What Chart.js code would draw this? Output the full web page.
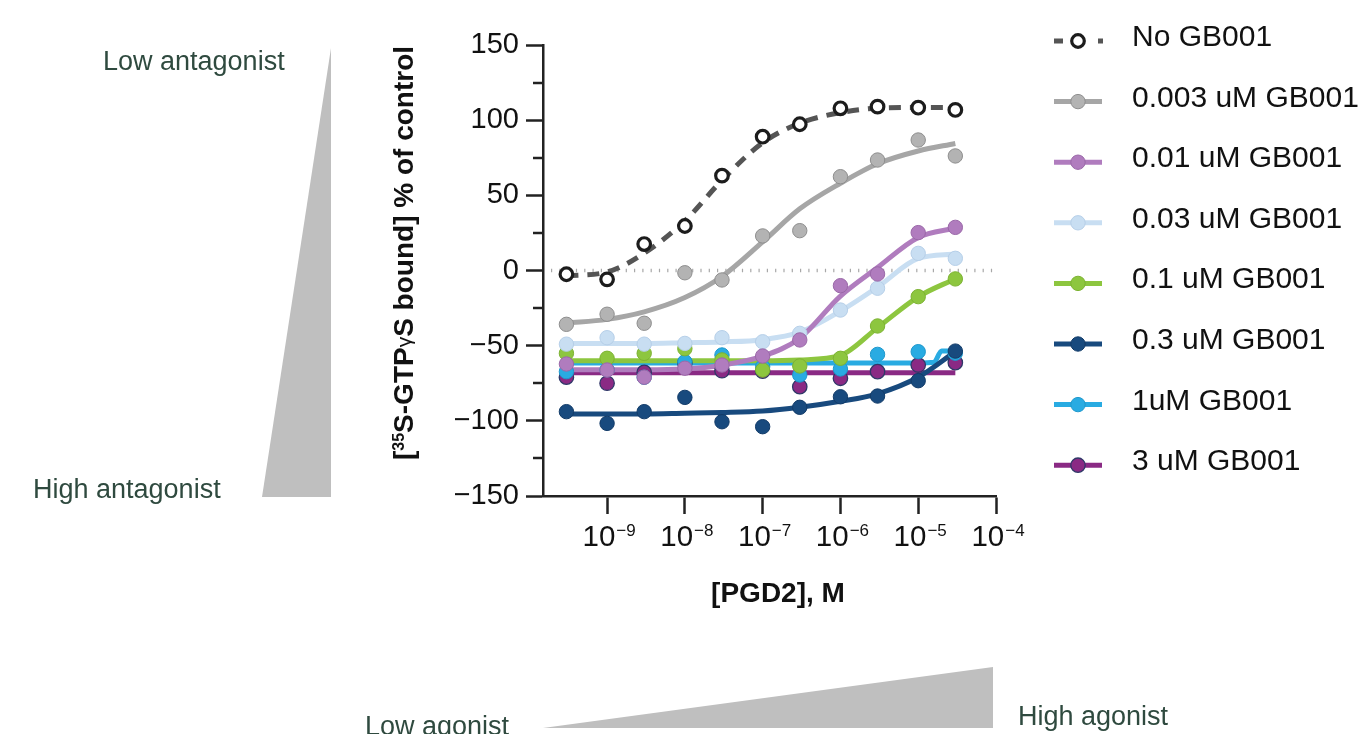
<!DOCTYPE html>
<html>
<head>
<meta charset="utf-8">
<script src="https://cdn.jsdelivr.net/npm/chart.js@4.4.1/dist/chart.umd.min.js"></script>
<style>
  html, body { margin: 0; background: #fff; }
  canvas { display: block; }
</style>
</head>
<body>
<canvas id="chart" width="1362" height="734"></canvas>
<script>
const FONT = '"Liberation Sans", Arial, Helvetica, sans-serif';
Chart.defaults.font.family = FONT;
Chart.defaults.color = '#111';

// [PGD2], M
const conc = [3e-10, 1e-9, 3e-9, 1e-8, 3e-8, 1e-7, 3e-7, 1e-6, 3e-6, 1e-5, 3e-5];
const xTicks = [1e-9, 1e-8, 1e-7, 1e-6, 1e-5, 1e-4];
const yMinorTicks = [-125, -75, -25, 25, 75, 125];

const labels = ['No GB001', '0.003 uM GB001', '0.01 uM GB001', '0.03 uM GB001',
                '0.1 uM GB001', '0.3 uM GB001', '1uM GB001', '3 uM GB001'];

// measured points (% of control)
const ptsNone = [-2.5, -5.9, 17.6, 29.6, 63.1, 89.0, 97.3, 107.9, 109.0, 108.3, 106.8];
const pts0003 = [-35.8, -29.1, -35.1, -1.5, -6.3, 23.0, 26.5, 62.4, 73.5, 86.8, 76.2];
const pts001 = [-62.2, -66.2, -71.0, -65.0, -62.9, -56.9, -46.2, -10.1, -2.3, 25.2, 28.7];
const pts003 = [-49.0, -44.7, -49.0, -48.5, -44.7, -47.4, -41.8, -26.3, -11.8, 11.4, 8.1];
const pts01 = [-55.1, -58.4, -55.1, -52.0, -59.5, -66.2, -63.5, -58.4, -36.9, -17.4, -5.6];
const pts03 = [-93.9, -101.7, -93.9, -84.4, -100.6, -103.9, -91.0, -84.0, -83.5, -73.3, -53.6];
const pts1 = [-67.3, -66.0, -71.0, -60.7, -56.2, -64.0, -69.5, -65.5, -55.8, -54.0, -55.0];
const pts3 = [-71.0, -75.0, -67.7, -61.5, -66.7, -67.0, -77.3, -71.7, -67.3, -62.9, -61.3];

// fitted curves at the same concentrations
const fitNone = [-3.5, -1, 11.5, 33, 60, 85, 98, 105, 108, 108.5, 108.5];
const fit0003 = [-35, -32.5, -27.5, -18, -4, 19, 41, 58, 71, 79.5, 84.5];
const fit001 = [-66, -66, -66, -65.5, -63, -57, -45, -17, 2, 22, 28.3];
const fit003 = [-48.5, -48.5, -48.5, -48, -47.5, -46, -41, -27, -11, 8, 11];
const fit01 = [-60, -60, -60, -60, -60, -60, -59.5, -56.5, -38, -17.5, -5.5];
const fit03 = [-95.5, -95.5, -95.5, -95, -94.5, -93.5, -91, -87, -82, -71, -54];
const fit3 = [-68, -68, -68, -68, -68, -68, -68, -68, -68, -68, -68];
// 1 uM fit is a sharp step near the top concentration
const conc1Fit = [3e-10, 1e-9, 3e-9, 1e-8, 3e-8, 1e-7, 3e-7, 1e-6, 3e-6, 1e-5, 1.6e-5, 2e-5, 3e-5];
const fit1 = [-61.5, -61.5, -61.5, -61.5, -61.5, -61.5, -61.5, -61.5, -61.5, -61.5, -61, -53.5, -53.5];

const series = [
  { pts: ptsNone, fit: fitNone, fx: conc, line: '#555555', fill: '#ffffff', edge: '#1c1c1c', bw: 3.2, r: 6.3, dash: [12, 9], zp: 2, zl: 9 },
  { pts: pts0003, fit: fit0003, fx: conc, line: '#a6a6a6', fill: '#b3b3b3', edge: '#8e8e8e', bw: 1, r: 7.2, zp: 3, zl: 12 },
  { pts: pts001, fit: fit001, fx: conc, line: '#b07cbe', fill: '#b07cbe', edge: '#9a68a8', bw: 1, r: 7.2, zp: 1, zl: 11 },
  { pts: pts003, fit: fit003, fx: conc, line: '#c8def2', fill: '#c8def2', edge: '#b6cfe8', bw: 1, r: 7.2, zp: 4, zl: 13 },
  { pts: pts01, fit: fit01, fx: conc, line: '#8dc63f', fill: '#8dc63f', edge: '#7cb232', bw: 1, r: 7.2, zp: 5, zl: 14 },
  { pts: pts03, fit: fit03, fx: conc, line: '#184a7e', fill: '#184a7e', edge: '#123b68', bw: 1, r: 7.2, zp: 6, zl: 10 },
  { pts: pts1, fit: fit1, fx: conc1Fit, line: '#29abe2', fill: '#29abe2', edge: '#1f98cc', bw: 1, r: 7.2, zp: 7, zl: 15 },
  { pts: pts3, fit: fit3, fx: conc, line: '#8a2a84', fill: '#8a2a84', edge: '#2f3868', bw: 1.3, r: 7.2, zp: 8, zl: 16 }
];

const datasets = [];
series.forEach((s, i) => {
  datasets.push({
    label: labels[i] + ' fit',
    data: s.fx.map((c, k) => ({ x: c, y: s.fit[k] })),
    borderColor: s.line,
    borderWidth: 5,
    borderDash: s.dash || [],
    pointRadius: 0,
    cubicInterpolationMode: 'monotone',
    fill: false,
    order: s.zl
  });
  datasets.push({
    label: labels[i],
    data: conc.map((c, k) => ({ x: c, y: s.pts[k] })),
    showLine: false,
    pointRadius: s.r,
    pointBackgroundColor: s.fill,
    pointBorderColor: s.edge,
    pointBorderWidth: s.bw,
    order: s.zp
  });
});

function superLabel(ctx, base, exp, cx, baseY, bigSize, smallSize) {
  ctx.font = bigSize + 'px ' + FONT;
  const wb = ctx.measureText(base).width;
  ctx.font = smallSize + 'px ' + FONT;
  const we = ctx.measureText(exp).width;
  const x0 = cx - (wb + we + 1) / 2;
  ctx.font = bigSize + 'px ' + FONT;
  ctx.fillText(base, x0, baseY);
  ctx.font = smallSize + 'px ' + FONT;
  ctx.fillText(exp, x0 + wb + 1, baseY - 10);
}

const decor = {
  id: 'decor',
  beforeDatasetsDraw(chart) {
    const { ctx, chartArea, scales } = chart;
    const y0 = scales.y.getPixelForValue(0);
    ctx.save();
    ctx.strokeStyle = '#a8a8a8';
    ctx.lineWidth = 3.5;
    ctx.setLineDash([1.2, 7.1]);
    ctx.beginPath();
    ctx.moveTo(chartArea.left + 8, y0);
    ctx.lineTo(chartArea.right, y0);
    ctx.stroke();
    ctx.restore();
  },
  afterDraw(chart) {
    const { ctx, chartArea, scales } = chart;
    ctx.save();

    // minor y ticks
    ctx.strokeStyle = '#222';
    ctx.lineWidth = 2.5;
    yMinorTicks.forEach(v => {
      const py = Math.round(scales.y.getPixelForValue(v));
      ctx.beginPath();
      ctx.moveTo(chartArea.left - 10, py);
      ctx.lineTo(chartArea.left, py);
      ctx.stroke();
    });

    // x tick labels 10^n
    ctx.fillStyle = '#111';
    ctx.textAlign = 'left';
    ctx.textBaseline = 'alphabetic';
    xTicks.forEach(v => {
      const px = scales.x.getPixelForValue(v);
      const e = Math.round(Math.log10(v));
      superLabel(ctx, '10', '\u2212' + Math.abs(e), px + 2, 546, 29.5, 17);
    });

    // axis titles
    ctx.font = 'bold 28px ' + FONT;
    ctx.textAlign = 'center';
    ctx.fillText('[PGD2], M', 778, 602);

    ctx.save();
    ctx.translate(413, 253);
    ctx.rotate(-Math.PI / 2);
    const parts = [
      { t: '[', f: 'bold 28px ', dy: 0 },
      { t: '35', f: 'bold 16px ', dy: -9 },
      { t: 'S-GTP', f: 'bold 28px ', dy: 0 },
      { t: '\u03b3', f: '21px ', dy: -2 },
      { t: 'S bound] % of control', f: 'bold 28px ', dy: 0 }
    ];
    let total = 0;
    parts.forEach(p => { ctx.font = p.f + FONT; p.w = ctx.measureText(p.t).width; total += p.w; });
    let x = -total / 2;
    ctx.textAlign = 'left';
    parts.forEach(p => { ctx.font = p.f + FONT; ctx.fillText(p.t, x, p.dy); x += p.w; });
    ctx.restore();

    // legend
    ctx.textAlign = 'left';
    series.forEach((s, i) => {
      const base = 46 + 60.6 * i;
      const ly = base - 5;
      ctx.lineCap = 'butt';
      ctx.strokeStyle = s.line;
      ctx.lineWidth = 5;
      ctx.beginPath();
      if (i === 0) {
        ctx.moveTo(1054, ly); ctx.lineTo(1063, ly);
        ctx.moveTo(1098, ly); ctx.lineTo(1103, ly);
      } else {
        ctx.moveTo(1054, ly); ctx.lineTo(1102, ly);
      }
      ctx.stroke();
      ctx.beginPath();
      ctx.arc(1078, ly, s.r, 0, Math.PI * 2);
      ctx.fillStyle = s.fill;
      ctx.fill();
      ctx.lineWidth = s.bw;
      ctx.strokeStyle = s.edge;
      ctx.stroke();
      ctx.fillStyle = '#111';
      ctx.font = '30px ' + FONT;
      ctx.fillText(labels[i], 1132, base);
    });

    // antagonist / agonist wedges
    ctx.fillStyle = '#bfbfbf';
    ctx.beginPath();
    ctx.moveTo(331, 48); ctx.lineTo(331, 497); ctx.lineTo(262, 497); ctx.closePath();
    ctx.fill();
    ctx.beginPath();
    ctx.moveTo(543, 728); ctx.lineTo(993, 667); ctx.lineTo(993, 728); ctx.closePath();
    ctx.fill();

    ctx.fillStyle = '#2f4a3f';
    ctx.font = '27px ' + FONT;
    ctx.fillText('Low antagonist', 103, 70);
    ctx.fillText('High antagonist', 33, 498);
    ctx.fillText('Low agonist', 365, 735);
    ctx.fillText('High agonist', 1018, 725);

    ctx.restore();
  }
};

new Chart(document.getElementById('chart'), {
  type: 'line',
  data: { datasets },
  options: {
    responsive: false,
    animation: false,
    devicePixelRatio: 1,
    layout: { padding: { left: 423, top: 45, right: 366, bottom: 178 } },
    plugins: { legend: { display: false }, tooltip: { enabled: false } },
    scales: {
      x: {
        type: 'logarithmic',
        min: 1.5e-10,
        max: 1e-4,
        afterBuildTicks: scale => { scale.ticks = xTicks.map(v => ({ value: v })); },
        afterFit: scale => { scale.height = 60; },
        ticks: { display: false },
        grid: { drawOnChartArea: false, tickLength: 18, tickWidth: 2.5, tickColor: '#222' },
        border: { color: '#222', width: 2.5 }
      },
      y: {
        min: -150,
        max: 150,
        afterFit: scale => { scale.width = 120; },
        ticks: {
          stepSize: 50,
          padding: 7,
          font: { size: 29 },
          color: '#111',
          callback: v => (v < 0 ? '\u2212' + Math.abs(v) : String(v))
        },
        grid: { drawOnChartArea: false, tickLength: 17, tickWidth: 2.5, tickColor: '#222' },
        border: { color: '#222', width: 2.5 }
      }
    }
  },
  plugins: [decor]
});
</script>
</body>
</html>
